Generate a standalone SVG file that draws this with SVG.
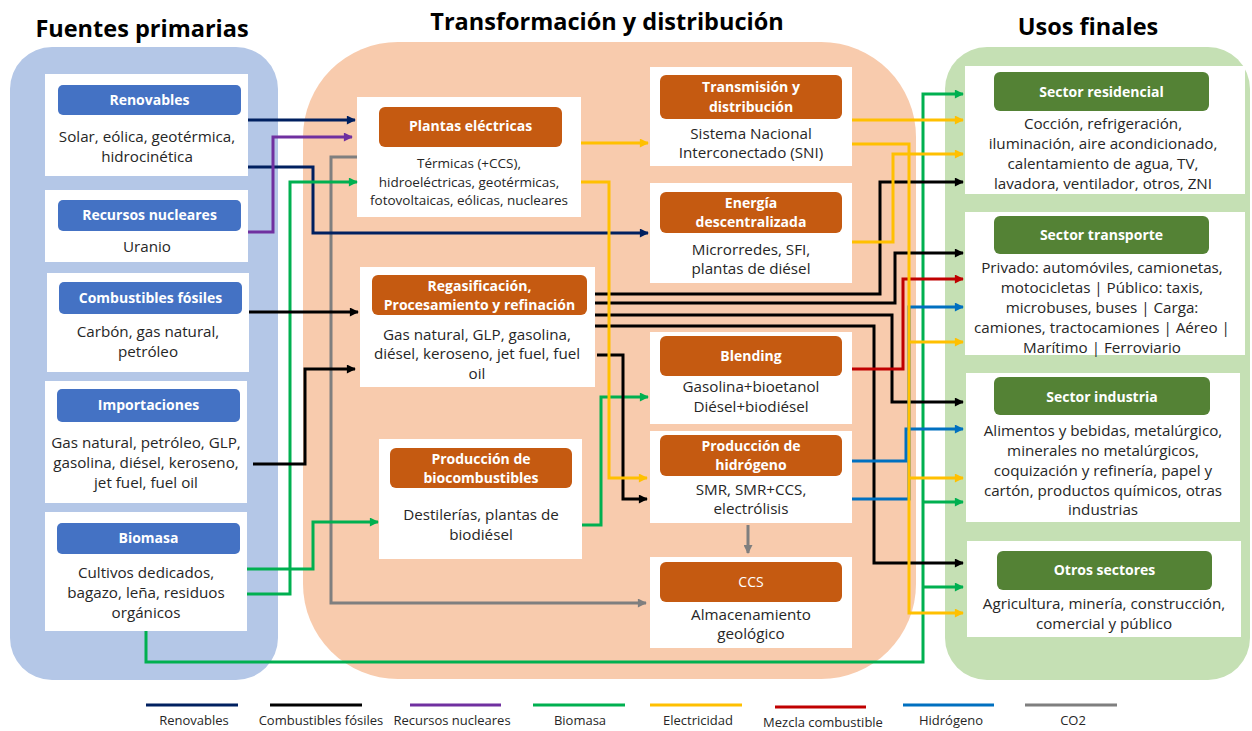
<svg xmlns="http://www.w3.org/2000/svg" width="1252" height="731" viewBox="0 0 1252 731">
<style>
text{font-family:"Open Sans","Noto Sans",sans-serif;text-anchor:middle}
.title{font-size:23.5px;font-weight:bold;fill:#000}
.hd{font-size:14px;font-weight:bold;fill:#fff}
.bd{font-size:15.2px;fill:#262626}
.sm{font-size:13.5px;fill:#262626}
.lg{font-size:13px;fill:#262626}
.box{fill:#fff}
.hb{fill:#4472C4}
.ho{fill:#C55A11}
.hg{fill:#548235}
.c{fill:none;stroke-width:3}
.nv{stroke:#002060}.bk{stroke:#000}.pu{stroke:#7030A0}.gr{stroke:#00B050}.ye{stroke:#FFC000}.rd{stroke:#C00000}.bl{stroke:#0070C0}.gy{stroke:#7F7F7F}
</style>
<defs>
<marker id="mNv" viewBox="0 0 10 10" refX="9" refY="5" markerWidth="10" markerHeight="9" markerUnits="userSpaceOnUse" orient="auto"><path d="M0,0L10,5L0,10z" fill="#002060"/></marker>
<marker id="mBk" viewBox="0 0 10 10" refX="9" refY="5" markerWidth="10" markerHeight="9" markerUnits="userSpaceOnUse" orient="auto"><path d="M0,0L10,5L0,10z" fill="#000"/></marker>
<marker id="mPu" viewBox="0 0 10 10" refX="9" refY="5" markerWidth="10" markerHeight="9" markerUnits="userSpaceOnUse" orient="auto"><path d="M0,0L10,5L0,10z" fill="#7030A0"/></marker>
<marker id="mGr" viewBox="0 0 10 10" refX="9" refY="5" markerWidth="10" markerHeight="9" markerUnits="userSpaceOnUse" orient="auto"><path d="M0,0L10,5L0,10z" fill="#00B050"/></marker>
<marker id="mYe" viewBox="0 0 10 10" refX="9" refY="5" markerWidth="10" markerHeight="9" markerUnits="userSpaceOnUse" orient="auto"><path d="M0,0L10,5L0,10z" fill="#FFC000"/></marker>
<marker id="mRd" viewBox="0 0 10 10" refX="9" refY="5" markerWidth="10" markerHeight="9" markerUnits="userSpaceOnUse" orient="auto"><path d="M0,0L10,5L0,10z" fill="#C00000"/></marker>
<marker id="mBl" viewBox="0 0 10 10" refX="9" refY="5" markerWidth="10" markerHeight="9" markerUnits="userSpaceOnUse" orient="auto"><path d="M0,0L10,5L0,10z" fill="#0070C0"/></marker>
<marker id="mGy" viewBox="0 0 10 10" refX="9" refY="5" markerWidth="10" markerHeight="9" markerUnits="userSpaceOnUse" orient="auto"><path d="M0,0L10,5L0,10z" fill="#7F7F7F"/></marker>
</defs>

<g id="panels">
<rect x="10" y="47" width="268" height="633" rx="42" fill="#B4C7E7"/>
<rect x="303" y="42" width="613" height="637" rx="95" fill="#F8CBAD"/>
<rect x="945" y="47" width="305" height="633" rx="42" fill="#C5E0B4"/>
<text class="title" x="142" y="37">Fuentes primarias</text>
<text class="title" x="607" y="30">Transformación y distribución</text>
<text class="title" x="1088" y="35">Usos finales</text>
</g>

<g id="renovables">
<rect class="box" x="45" y="74" width="203" height="102"/>
<rect class="hb" x="58" y="85" width="183" height="30" rx="5"/>
<text class="hd" x="149.5" y="105">Renovables</text>
<text class="bd" x="147" y="142">Solar, eólica, geotérmica,</text>
<text class="bd" x="147" y="162">hidrocinética</text>
</g>
<g id="nucleares">
<rect class="box" x="45" y="190" width="203" height="72"/>
<rect class="hb" x="58" y="200" width="183" height="31" rx="5"/>
<text class="hd" x="149.5" y="220">Recursos nucleares</text>
<text class="bd" x="147" y="252">Uranio</text>
</g>
<g id="fosiles">
<rect class="box" x="47" y="273" width="202" height="99"/>
<rect class="hb" x="59" y="282" width="183" height="32" rx="5"/>
<text class="hd" x="150.5" y="303">Combustibles fósiles</text>
<text class="bd" x="148" y="337">Carbón, gas natural,</text>
<text class="bd" x="148" y="357">petróleo</text>
</g>
<g id="importaciones">
<rect class="box" x="45" y="381" width="202" height="122"/>
<rect class="hb" x="57" y="389" width="183" height="33" rx="5"/>
<text class="hd" x="148.5" y="410">Importaciones</text>
<text class="bd" x="146" y="448">Gas natural, petróleo, GLP,</text>
<text class="bd" x="146" y="468">gasolina, diésel, keroseno,</text>
<text class="bd" x="146" y="488">jet fuel, fuel oil</text>
</g>
<g id="biomasa">
<rect class="box" x="45" y="512" width="202" height="119"/>
<rect class="hb" x="57" y="523" width="183" height="31" rx="5"/>
<text class="hd" x="148.5" y="543">Biomasa</text>
<text class="bd" x="146" y="578">Cultivos dedicados,</text>
<text class="bd" x="146" y="598">bagazo, leña, residuos</text>
<text class="bd" x="146" y="618">orgánicos</text>
</g>

<g id="plantas">
<rect class="box" x="357" y="97" width="224" height="120"/>
<rect class="ho" x="379" y="107" width="183" height="40" rx="6"/>
<text class="hd" x="470.5" y="131">Plantas eléctricas</text>
<text class="sm" x="469" y="168">Térmicas (+CCS),</text>
<text class="sm" x="469" y="187">hidroeléctricas, geotérmicas,</text>
<text class="sm" x="469" y="205">fotovoltaicas, eólicas, nucleares</text>
</g>
<g id="regasificacion">
<rect class="box" x="360" y="267" width="235" height="120"/>
<rect class="ho" x="372" y="275" width="215" height="40" rx="6"/>
<text class="hd" x="479.5" y="291">Regasificación,</text>
<text class="hd" x="479.5" y="310">Procesamiento y refinación</text>
<text class="bd" x="477" y="340">Gas natural, GLP, gasolina,</text>
<text class="bd" x="477" y="359">diésel, keroseno, jet fuel, fuel</text>
<text class="bd" x="477" y="379">oil</text>
</g>
<g id="biocombustibles">
<rect class="box" x="379" y="439" width="203" height="120"/>
<rect class="ho" x="390" y="448" width="182" height="40" rx="6"/>
<text class="hd" x="481" y="464">Producción  de</text>
<text class="hd" x="481" y="483">biocombustibles</text>
<text class="bd" x="481" y="520">Destilerías, plantas de</text>
<text class="bd" x="481" y="540">biodiésel</text>
</g>
<g id="transmision">
<rect class="box" x="650" y="67" width="202" height="99"/>
<rect class="ho" x="660" y="75" width="182" height="44" rx="6"/>
<text class="hd" x="751" y="92">Transmisión  y</text>
<text class="hd" x="751" y="112">distribución</text>
<text class="bd" x="751" y="139">Sistema Nacional</text>
<text class="bd" x="751" y="158">Interconectado (SNI)</text>
</g>
<g id="descentralizada">
<rect class="box" x="650" y="183" width="202" height="100"/>
<rect class="ho" x="660" y="192" width="182" height="41" rx="6"/>
<text class="hd" x="751" y="208">Energía</text>
<text class="hd" x="751" y="227">descentralizada</text>
<text class="bd" x="751" y="255">Microrredes, SFI,</text>
<text class="bd" x="751" y="274">plantas de diésel</text>
</g>
<g id="blending">
<rect class="box" x="650" y="332" width="202" height="92"/>
<rect class="ho" x="660" y="336" width="182" height="40" rx="6"/>
<text class="hd" x="751" y="361">Blending</text>
<text class="bd" x="751" y="392">Gasolina+bioetanol</text>
<text class="bd" x="751" y="412">Diésel+biodiésel</text>
</g>
<g id="hidrogeno">
<rect class="box" x="650" y="431" width="202" height="92"/>
<rect class="ho" x="660" y="435" width="182" height="41" rx="6"/>
<text class="hd" x="751" y="451">Producción  de</text>
<text class="hd" x="751" y="470">hidrógeno</text>
<text class="bd" x="751" y="495">SMR, SMR+CCS,</text>
<text class="bd" x="751" y="514">electrólisis</text>
</g>
<g id="ccs">
<rect class="box" x="650" y="557" width="202" height="91"/>
<rect class="ho" x="660" y="562" width="182" height="40" rx="6"/>
<text class="hd" x="751" y="587" style="font-weight:normal">CCS</text>
<text class="bd" x="751" y="620">Almacenamiento</text>
<text class="bd" x="751" y="639">geológico</text>
</g>

<g id="residencial">
<rect class="box" x="965" y="66" width="280" height="128"/>
<rect class="hg" x="994" y="72" width="215" height="39" rx="6"/>
<text class="hd" x="1101.5" y="97">Sector residencial</text>
<text class="bd" x="1103" y="129">Cocción, refrigeración,</text>
<text class="bd" x="1103" y="149">iluminación, aire acondicionado,</text>
<text class="bd" x="1103" y="169">calentamiento de agua, TV,</text>
<text class="bd" x="1103" y="189">lavadora, ventilador, otros, ZNI</text>
</g>
<g id="transporte">
<rect class="box" x="965" y="212" width="280" height="143"/>
<rect class="hg" x="994" y="216" width="215" height="38" rx="6"/>
<text class="hd" x="1101.5" y="240">Sector transporte</text>
<text class="bd" x="1102" y="273">Privado: automóviles, camionetas,</text>
<text class="bd" x="1102" y="293">motocicletas | Público: taxis,</text>
<text class="bd" x="1102" y="313">microbuses, buses | Carga:</text>
<text class="bd" x="1102" y="333">camiones, tractocamiones | Aéreo |</text>
<text class="bd" x="1102" y="353">Marítimo | Ferroviario</text>
</g>
<g id="industria">
<rect class="box" x="966" y="373" width="274" height="149"/>
<rect class="hg" x="994" y="377" width="216" height="38" rx="6"/>
<text class="hd" x="1102" y="402">Sector industria</text>
<text class="bd" x="1103" y="436">Alimentos y bebidas, metalúrgico,</text>
<text class="bd" x="1103" y="456">minerales no metalúrgicos,</text>
<text class="bd" x="1103" y="476">coquización y refinería, papel y</text>
<text class="bd" x="1103" y="496">cartón, productos químicos, otras</text>
<text class="bd" x="1103" y="515">industrias</text>
</g>
<g id="otros">
<rect class="box" x="967" y="541" width="274" height="96"/>
<rect class="hg" x="997" y="551" width="215" height="39" rx="6"/>
<text class="hd" x="1104.5" y="575">Otros sectores</text>
<text class="bd" x="1104" y="609">Agricultura, minería, construcción,</text>
<text class="bd" x="1104" y="629">comercial y público</text>
</g>

<g id="connectors">
<path class="c gy" d="M357,157H331V603H646" marker-end="url(#mGy)"/>
<path class="c gy" d="M748,525V553" marker-end="url(#mGy)"/>
<path class="c nv" d="M248,120H355" marker-end="url(#mNv)"/>
<path class="c nv" d="M248,167H313V233H648" marker-end="url(#mNv)"/>
<path class="c pu" d="M248,232H273V137H352" marker-end="url(#mPu)"/>
<path class="c gr" d="M247,594H290V182H357" marker-end="url(#mGr)"/>
<path class="c gr" d="M247,569H313V522H378" marker-end="url(#mGr)"/>
<path class="c gr" d="M146,631V662H923V94H963" marker-end="url(#mGr)"/>
<path class="c gr" d="M923,502H963" marker-end="url(#mGr)"/>
<path class="c gr" d="M923,587H963" marker-end="url(#mGr)"/>
<path class="c gr" d="M582,525H601V397H648" marker-end="url(#mGr)"/>
<path class="c bk" d="M249,312H358" marker-end="url(#mBk)"/>
<path class="c bk" d="M253,464H305V369H355" marker-end="url(#mBk)"/>
<path class="c bk" d="M595,294H880V182H963" marker-end="url(#mBk)"/>
<path class="c bk" d="M595,303H895V253H963" marker-end="url(#mBk)"/>
<path class="c bk" d="M595,315H892V402H963" marker-end="url(#mBk)"/>
<path class="c bk" d="M595,326H874V563H963" marker-end="url(#mBk)"/>
<path class="c bk" d="M597,355H623V499H647" marker-end="url(#mBk)"/>
<path class="c rd" d="M852,369H903V279H963" marker-end="url(#mRd)"/>
<path class="c bl" d="M852,461H906V429H963" marker-end="url(#mBl)"/>
<path class="c bl" d="M852,499H909V307H963" marker-end="url(#mBl)"/>
<path class="c ye" d="M581,143H648" marker-end="url(#mYe)"/>
<path class="c ye" d="M581,182H609V478H647" marker-end="url(#mYe)"/>
<path class="c ye" d="M852,120H963" marker-end="url(#mYe)"/>
<path class="c ye" d="M852,144H909V613H963" marker-end="url(#mYe)"/>
<path class="c ye" d="M909,342H963" marker-end="url(#mYe)"/>
<path class="c ye" d="M909,478H963" marker-end="url(#mYe)"/>
<path class="c ye" d="M852,242H893V154H963" marker-end="url(#mYe)"/>
</g>

<g id="legend">
<path class="c nv" d="M146,705H238" stroke-width="4"/>
<path class="c bk" d="M270,705H362" stroke-width="4"/>
<path class="c pu" d="M410,705H501" stroke-width="4"/>
<path class="c gr" d="M533,705H625" stroke-width="4"/>
<path class="c ye" d="M650,705H742" stroke-width="4"/>
<path class="c rd" d="M775,707H866" stroke-width="4"/>
<path class="c bl" d="M903,705H994" stroke-width="4"/>
<path class="c gy" d="M1025,705H1117" stroke-width="4"/>
<text class="lg" x="194" y="725">Renovables</text>
<text class="lg" x="321" y="725">Combustibles fósiles</text>
<text class="lg" x="452" y="725">Recursos nucleares</text>
<text class="lg" x="580" y="725">Biomasa</text>
<text class="lg" x="698" y="725">Electricidad</text>
<text class="lg" x="823" y="727">Mezcla combustible</text>
<text class="lg" x="951" y="725">Hidrógeno</text>
<text class="lg" x="1073" y="725">CO2</text>
</g>
</svg>
